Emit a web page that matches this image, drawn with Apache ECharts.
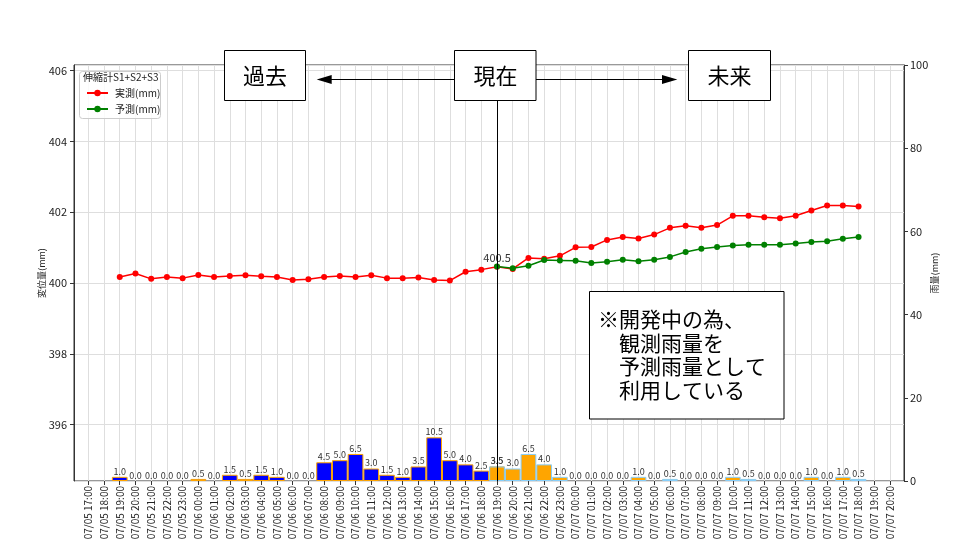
<!DOCTYPE html>
<html>
<head>
<meta charset="utf-8">
<script src="https://cdn.jsdelivr.net/npm/echarts@6/dist/echarts.min.js"></script>
<style>
html,body{margin:0;padding:0;background:#fff;}
#chart{width:979px;height:550px;}
</style>
</head>
<body>
<div id="chart"></div>
<script>
const categories = [
  '07/05 17:00','07/05 18:00','07/05 19:00','07/05 20:00','07/05 21:00','07/05 22:00','07/05 23:00',
  '07/06 00:00','07/06 01:00','07/06 02:00','07/06 03:00','07/06 04:00','07/06 05:00','07/06 06:00',
  '07/06 07:00','07/06 08:00','07/06 09:00','07/06 10:00','07/06 11:00','07/06 12:00','07/06 13:00',
  '07/06 14:00','07/06 15:00','07/06 16:00','07/06 17:00','07/06 18:00','07/06 19:00','07/06 20:00',
  '07/06 21:00','07/06 22:00','07/06 23:00','07/07 00:00','07/07 01:00','07/07 02:00','07/07 03:00',
  '07/07 04:00','07/07 05:00','07/07 06:00','07/07 07:00','07/07 08:00','07/07 09:00','07/07 10:00',
  '07/07 11:00','07/07 12:00','07/07 13:00','07/07 14:00','07/07 15:00','07/07 16:00','07/07 17:00',
  '07/07 18:00','07/07 19:00','07/07 20:00'
];
const nowCategory = '07/06 19:00';
const nowLabel = '400.5';

const measured = [
  null, null, 400.17, 400.27, 400.12, 400.17, 400.14, 400.23, 400.17, 400.20, 400.22, 400.19, 400.17,
  400.09, 400.11, 400.17, 400.20, 400.17, 400.22, 400.14, 400.14, 400.16, 400.09, 400.07, 400.32,
  400.38, 400.46, 400.40, 400.71, 400.69, 400.77, 401.01, 401.02, 401.22, 401.30, 401.26, 401.37,
  401.56, 401.62, 401.56, 401.64, 401.90, 401.90, 401.86, 401.83, 401.90, 402.05, 402.19, 402.19,
  402.16, null, null
];
const predicted = [
  null, null, null, null, null, null, null, null, null, null, null, null, null, null, null, null,
  null, null, null, null, null, null, null, null, null, null,
  400.47, 400.42, 400.49, 400.65, 400.64, 400.63, 400.57, 400.60, 400.66, 400.62, 400.66, 400.74,
  400.88, 400.97, 401.02, 401.06, 401.08, 401.08, 401.08, 401.12, 401.16, 401.18, 401.25, 401.30,
  null, null
];
const rainObserved = [
  null, null, 1.0, 0.0, 0.0, 0.0, 0.0, 0.5, 0.0, 1.5, 0.5, 1.5, 1.0, 0.0, 0.0, 4.5, 5.0, 6.5, 3.0,
  1.5, 1.0, 3.5, 10.5, 5.0, 4.0, 2.5, 3.5,
  null, null, null, null, null, null, null, null, null, null, null, null, null, null, null, null,
  null, null, null, null, null, null, null, null, null
];
const rainForecast = [
  null, null, null, null, null, null, null, null, null, null, null, null, null, null, null, null,
  null, null, null, null, null, null, null, null, null, null,
  3.5, 3.0, 6.5, 4.0, 1.0, 0.0, 0.0, 0.0, 0.0, 1.0, 0.0, 0.5, 0.0, 0.0, 0.0, 1.0, 0.5, 0.0, 0.0,
  0.0, 1.0, 0.0, 1.0, 0.5, null, null
];
const leftTicks = { min: 394.41, max: 406.16 };
const rightTicks = { min: 0, max: 100, interval: 20 };

const FONT = 'Noto Sans CJK JP';
const chart = echarts.init(document.getElementById('chart'), null, { renderer: 'canvas' });

const predictedData = predicted.map(function (v, i) {
  if (categories[i] === nowCategory && v !== null) {
    return {
      value: v,
      label: { show: true, position: 'top', distance: 0, formatter: nowLabel, fontSize: 11, color: '#333', fontFamily: FONT }
    };
  }
  return v;
});

function barItems(arr) {
  return arr.map(function (v) {
    if (v === 0) return { value: v, itemStyle: { borderWidth: 0, opacity: 0 } };
    return v;
  });
}

const barLabel = {
  show: true, position: 'top', distance: 1, fontSize: 9, color: '#333', fontFamily: FONT, opacity: 1,
  formatter: function (p) { return p.value == null ? '' : Number(p.value).toFixed(1); }
};

const option = {
  animation: false,
  backgroundColor: '#fff',
  textStyle: { fontFamily: FONT },
  grid: [
    { left: 74, right: 75, top: 65, bottom: 69, show: true, borderColor: '#333', borderWidth: 1, backgroundColor: 'transparent' },
    { left: 88.3, right: 89, top: 65, bottom: 69 }
  ],
  xAxis: [
    { gridIndex: 0, type: 'value', min: 0, max: 1, show: false },
    {
      gridIndex: 1, type: 'category', data: categories, boundaryGap: false,
      axisLine: { show: false },
      axisTick: { show: true, interval: 0, length: 4, lineStyle: { color: '#333' } },
      axisLabel: { interval: 0, rotate: 90, fontSize: 10, color: '#222', margin: 5, fontFamily: FONT },
      splitLine: { show: true, interval: 0, lineStyle: { color: '#dedede', width: 1 } }
    }
  ],
  yAxis: [
    {
      gridIndex: 0, type: 'value', position: 'left', min: leftTicks.min, max: leftTicks.max, splitNumber: 5,
      name: '変位量(mm)', nameLocation: 'middle', nameGap: 28, nameRotate: 90, nameMoveOverlap: false,
      nameTextStyle: { fontSize: 9, color: '#222', fontFamily: FONT },
      axisLine: { show: true, lineStyle: { color: '#333' } },
      axisTick: { show: true, length: 4, lineStyle: { color: '#333' } },
      axisLabel: { fontSize: 11, color: '#222', margin: 7, showMinLabel: false, showMaxLabel: false, fontFamily: FONT },
      splitLine: { show: true, lineStyle: { color: '#dedede', width: 1 } }
    },
    {
      gridIndex: 0, type: 'value', position: 'right', min: rightTicks.min, max: rightTicks.max, interval: rightTicks.interval,
      name: '雨量(mm)', nameLocation: 'middle', nameGap: 26.5, nameRotate: 90, nameMoveOverlap: false,
      nameTextStyle: { fontSize: 9, color: '#222', fontFamily: FONT },
      axisLine: { show: true, lineStyle: { color: '#333' } },
      axisTick: { show: true, length: 4, lineStyle: { color: '#333' } },
      axisLabel: { fontSize: 11, color: '#222', margin: 6, fontFamily: FONT },
      splitLine: { show: false }
    },
    { gridIndex: 1, type: 'value', min: leftTicks.min, max: leftTicks.max, show: false, splitLine: { show: false } },
    { gridIndex: 1, type: 'value', min: rightTicks.min, max: rightTicks.max, interval: rightTicks.interval, show: false, splitLine: { show: false } }
  ],
  legend: {
    orient: 'vertical', left: 80, top: 71, padding: [16, 4, 4, 6], itemGap: 4,
    itemWidth: 21, itemHeight: 8,
    textStyle: { fontSize: 10, color: '#222', lineHeight: 12, fontFamily: FONT, padding: [0, 0, 0, 2] },
    data: ['実測(mm)', '予測(mm)']
  },
  series: [
    {
      name: '雨量実測', type: 'bar', xAxisIndex: 1, yAxisIndex: 3, data: barItems(rainObserved),
      barCategoryGap: '0%', barGap: '-100%', z: 2,
      itemStyle: { color: '#0000ff', borderColor: '#ffa500', borderWidth: 1 },
      label: barLabel
    },
    {
      name: '雨量予測', type: 'bar', xAxisIndex: 1, yAxisIndex: 3, data: barItems(rainForecast),
      barCategoryGap: '0%', barGap: '-100%', z: 2,
      itemStyle: { color: '#ffa500', borderColor: '#87cefa', borderWidth: 1 },
      label: barLabel
    },
    {
      name: '実測(mm)', type: 'line', xAxisIndex: 1, yAxisIndex: 2, data: measured,
      symbol: 'circle', symbolSize: 6, showSymbol: true, z: 3,
      itemStyle: { color: '#ff0000' }, lineStyle: { color: '#ff0000', width: 1.5 },
      markLine: {
        silent: true, symbol: ['none', 'none'], label: { show: false },
        lineStyle: { color: '#000', width: 1, type: 'solid' },
        data: [{ xAxis: nowCategory }]
      }
    },
    {
      name: '予測(mm)', type: 'line', xAxisIndex: 1, yAxisIndex: 2, data: predictedData,
      symbol: 'circle', symbolSize: 6, showSymbol: true, z: 4,
      itemStyle: { color: '#008000' }, lineStyle: { color: '#008000', width: 1.5 }
    }
  ],
  graphic: [
    { type: 'rect', z: 3, shape: { x: 79.5, y: 71.5, width: 81, height: 47, r: 3 }, style: { fill: 'rgba(255,255,255,0.85)', stroke: '#cccccc', lineWidth: 1 } },
    { type: 'text', z: 5, left: 83, top: 72, style: { text: '伸縮計S1+S2+S3', fontSize: 10, fill: '#222', fontFamily: FONT } },

    { type: 'rect', z: 10, shape: { x: 224.5, y: 50.5, width: 81, height: 50 }, style: { fill: '#fff', stroke: '#000', lineWidth: 1 } },
    { type: 'text', z: 11, x: 265, y: 76, style: { text: '過去', fontSize: 22, fill: '#000', fontFamily: FONT, align: 'center', verticalAlign: 'middle' } },
    { type: 'rect', z: 10, shape: { x: 454.5, y: 50.5, width: 81.5, height: 50 }, style: { fill: '#fff', stroke: '#000', lineWidth: 1 } },
    { type: 'text', z: 11, x: 495.5, y: 76, style: { text: '現在', fontSize: 22, fill: '#000', fontFamily: FONT, align: 'center', verticalAlign: 'middle' } },
    { type: 'rect', z: 10, shape: { x: 688.5, y: 50.5, width: 82, height: 50 }, style: { fill: '#fff', stroke: '#000', lineWidth: 1 } },
    { type: 'text', z: 11, x: 729.5, y: 76, style: { text: '未来', fontSize: 22, fill: '#000', fontFamily: FONT, align: 'center', verticalAlign: 'middle' } },

    { type: 'line', z: 10, shape: { x1: 330, y1: 79.5, x2: 454.5, y2: 79.5 }, style: { stroke: '#000', lineWidth: 1 } },
    { type: 'polygon', z: 10, shape: { points: [[316.7, 79.5], [331.7, 75], [331.7, 84]] }, style: { fill: '#000' } },
    { type: 'line', z: 10, shape: { x1: 536, y1: 79.5, x2: 663, y2: 79.5 }, style: { stroke: '#000', lineWidth: 1 } },
    { type: 'polygon', z: 10, shape: { points: [[677.3, 79.5], [662, 75], [662, 84]] }, style: { fill: '#000' } },

    { type: 'rect', z: 10, shape: { x: 589.5, y: 291.5, width: 194.5, height: 127.5 }, style: { fill: '#fff', stroke: '#000', lineWidth: 1 } },
    { type: 'text', z: 11, x: 598, y: 307, style: { text: '※開発中の為、\n\u3000観測雨量を\n\u3000予測雨量として\n\u3000利用している', fontSize: 21, lineHeight: 23.7, fill: '#000', fontFamily: FONT, align: 'left', verticalAlign: 'top' } }
  ]
};
chart.setOption(option);
</script>
</body>
</html>
